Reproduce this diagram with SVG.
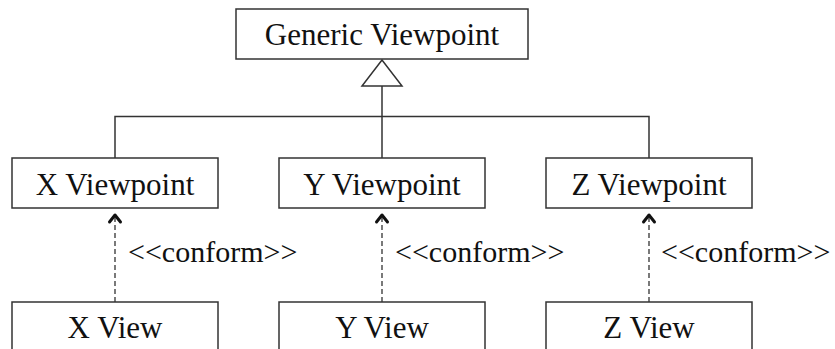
<svg xmlns="http://www.w3.org/2000/svg" width="835" height="349" viewBox="0 0 835 349">
  <style>
    .box { fill: #ffffff; stroke: #333333; stroke-width: 1.5; }
    .lbl { font-family: "Liberation Serif", "Times New Roman", serif; font-size: 31px; fill: #111111; text-anchor: middle; }
    .st { font-family: "Liberation Serif", "Times New Roman", serif; font-size: 30px; fill: #111111; }
    .line { fill: none; stroke: #333333; stroke-width: 1.5; }
    .dash { fill: none; stroke: #333333; stroke-width: 1.3; stroke-dasharray: 5 3; }
    .head { fill: none; stroke: #111111; stroke-width: 3; stroke-linecap: round; stroke-linejoin: round; }
  </style>
  <rect width="835" height="349" fill="#ffffff"/>

  <g id="connectors">
    <!-- generalization tree -->
    <polyline class="line" points="115,158 115,116.5 649,116.5 649,158"/>
    <line class="line" x1="382" y1="86" x2="382" y2="158"/>
    <polygon points="382,60 362,86 402,86" fill="#ffffff" stroke="#333333" stroke-width="1.5"/>
    <!-- conformance dependencies -->
    <line class="dash" x1="115" y1="302" x2="115" y2="214"/>
    <polyline class="head" points="109.5,222 115,215 120.5,222"/>
    <line class="dash" x1="382" y1="302" x2="382" y2="214"/>
    <polyline class="head" points="376.5,222 382,215 387.5,222"/>
    <line class="dash" x1="649" y1="302" x2="649" y2="214"/>
    <polyline class="head" points="643.5,222 649,215 654.5,222"/>
    <text class="st" x="128" y="262">&lt;&lt;conform&gt;&gt;</text>
    <text class="st" x="395" y="262">&lt;&lt;conform&gt;&gt;</text>
    <text class="st" x="661" y="262">&lt;&lt;conform&gt;&gt;</text>
  </g>

  <g id="generic-viewpoint">
    <rect class="box" x="236" y="9" width="292" height="50"/>
    <text class="lbl" x="382" y="45">Generic Viewpoint</text>
  </g>

  <g id="x-viewpoint">
    <rect class="box" x="12" y="158" width="206" height="50"/>
    <text class="lbl" x="115" y="195">X Viewpoint</text>
  </g>
  <g id="y-viewpoint">
    <rect class="box" x="279" y="158" width="206" height="50"/>
    <text class="lbl" x="382" y="195">Y Viewpoint</text>
  </g>
  <g id="z-viewpoint">
    <rect class="box" x="546" y="158" width="206" height="50"/>
    <text class="lbl" x="649" y="195">Z Viewpoint</text>
  </g>

  <g id="x-view">
    <rect class="box" x="12" y="302" width="206" height="60"/>
    <text class="lbl" x="115" y="338">X View</text>
  </g>
  <g id="y-view">
    <rect class="box" x="279" y="302" width="206" height="60"/>
    <text class="lbl" x="382" y="338">Y View</text>
  </g>
  <g id="z-view">
    <rect class="box" x="546" y="302" width="206" height="60"/>
    <text class="lbl" x="649" y="338">Z View</text>
  </g>
</svg>
